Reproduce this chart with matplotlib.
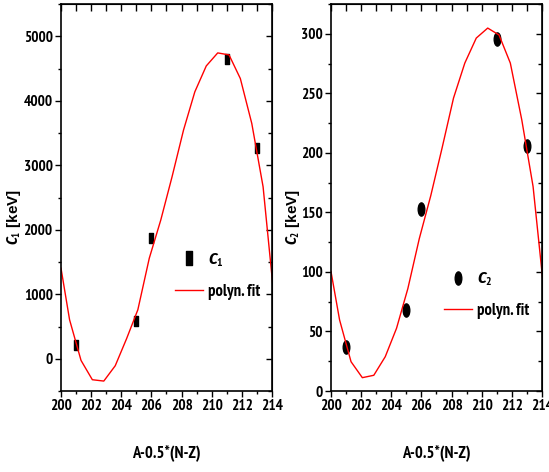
import numpy as np
import matplotlib
matplotlib.use("Agg")
import matplotlib.pyplot as plt
from matplotlib.path import Path
from matplotlib.transforms import Affine2D
from matplotlib.ticker import MultipleLocator

# measured points
x_pts = [201, 205, 206, 211, 213]
c1_pts = [217, 593, 1870, 4650, 3260]
c2_pts = [37.2, 68, 152.7, 295.8, 206]

x_fit = [200.0, 200.57, 201.33, 202.08, 202.84, 203.6, 204.35, 205.1, 205.86,
         206.62, 207.37, 208.13, 208.88, 209.64, 210.4, 211.15, 211.9,
         212.66, 213.41, 214.17]
c1_fit = [1404, 604, -26, -325, -346, -108, 310, 760, 1560, 2150, 2822,
          3545, 4138, 4540, 4742, 4711, 4345, 3648, 2667, 873]
c2_fit = [100.3, 59.7, 24.6, 11.2, 13.2, 28.8, 52.7, 86, 128, 164, 204,
          246, 275.4, 296.4, 304.8, 299, 275.4, 227.7, 171.7, 79]

narrow = ['PT Sans Narrow', 'Fira Sans Condensed', 'Liberation Sans', 'DejaVu Sans']
plt.rcParams['font.family'] = narrow
plt.rcParams['font.weight'] = 'bold'
plt.rcParams['mathtext.fontset'] = 'custom'
plt.rcParams['mathtext.it'] = 'Fira Sans Condensed:italic:bold'
plt.rcParams['mathtext.rm'] = 'PT Sans Narrow:bold'
plt.rcParams['mathtext.bf'] = 'PT Sans Narrow:bold'

# narrow markers (the original is squeezed horizontally)
sq = Path([(-0.5, -1), (0.5, -1), (0.5, 1), (-0.5, 1), (-0.5, -1)],
          [Path.MOVETO, Path.LINETO, Path.LINETO, Path.LINETO, Path.CLOSEPOLY])
circ = Path.unit_circle().transformed(Affine2D().scale(0.5, 1.0))

fig = plt.figure(figsize=(5.49, 4.72), dpi=100)
ax1 = fig.add_axes([0.1111, 0.1716, 0.3843, 0.8199])
ax2 = fig.add_axes([0.6029, 0.1716, 0.3843, 0.8199])


def style(ax, ymaj, ymin, ylim):
    ax.set_xlim(200, 214)
    ax.set_ylim(*ylim)
    ax.xaxis.set_major_locator(MultipleLocator(2))
    ax.xaxis.set_minor_locator(MultipleLocator(1))
    ax.yaxis.set_major_locator(MultipleLocator(ymaj))
    ax.yaxis.set_minor_locator(MultipleLocator(ymin))
    ax.tick_params(which='both', direction='out', labelsize=11, width=1, pad=2)
    ax.tick_params(which='major', length=4)
    ax.tick_params(which='minor', length=2.5)
    for lab in ax.get_xticklabels() + ax.get_yticklabels():
        lab.set_fontweight('bold')
    top = ax.secondary_xaxis('top')
    top.xaxis.set_major_locator(MultipleLocator(1))
    top.tick_params(direction='in', length=5, labeltop=False, width=1)
    right = ax.secondary_yaxis('right')
    right.yaxis.set_major_locator(MultipleLocator(ymaj))
    right.yaxis.set_minor_locator(MultipleLocator(ymin))
    right.tick_params(which='both', direction='in', labelright=False, width=1)
    right.tick_params(which='major', length=4)
    right.tick_params(which='minor', length=3)
    for s in ax.spines.values():
        s.set_linewidth(1.2)
    ax.set_xlabel('A-0.5*(N-Z)', fontsize=12, fontweight='bold')
    ax.xaxis.set_label_coords(0.5, -0.14)


ax1.plot(x_pts, c1_pts, linestyle='none', marker=sq, markersize=7,
         color='black', label=r'$C_1$')
ax1.plot(x_fit, c1_fit, color='red', lw=1, label='polyn. fit')
style(ax1, 1000, 500, (-500, 5500))
ax1.set_ylabel(r'$C_1$ [keV]', fontsize=11, fontweight='bold',
               family=['Liberation Sans', 'DejaVu Sans'])
ax1.yaxis.set_label_coords(-0.18, 0.45)
ax1.legend(loc='upper left', bbox_to_anchor=(0.47, 0.40), frameon=False,
           fontsize=12, handlelength=1.7, handletextpad=0.3, labelspacing=0.9,
           markerscale=1.4)

ax2.plot(x_pts, c2_pts, linestyle='none', marker=circ, markersize=9.5,
         color='black', label=r'$C_2$')
ax2.plot(x_fit, c2_fit, color='red', lw=1, label='polyn. fit')
style(ax2, 50, 25, (0, 325))
ax2.set_ylabel(r'$C_2$ [keV]', fontsize=11, fontweight='bold',
               family=['Liberation Sans', 'DejaVu Sans'])
ax2.yaxis.set_label_coords(-0.137, 0.45)
ax2.legend(loc='upper left', bbox_to_anchor=(0.465, 0.35), frameon=False,
           fontsize=12, handlelength=1.7, handletextpad=0.3, labelspacing=0.9)

# keep the last tick label of the right panel inside the figure
fig.canvas.draw()
for lab in ax2.get_xticklabels():
    if lab.get_text() == '214':
        lab.set_horizontalalignment('center')
        lab.set_x(213.72)

fig.savefig('out.png', dpi=100)
